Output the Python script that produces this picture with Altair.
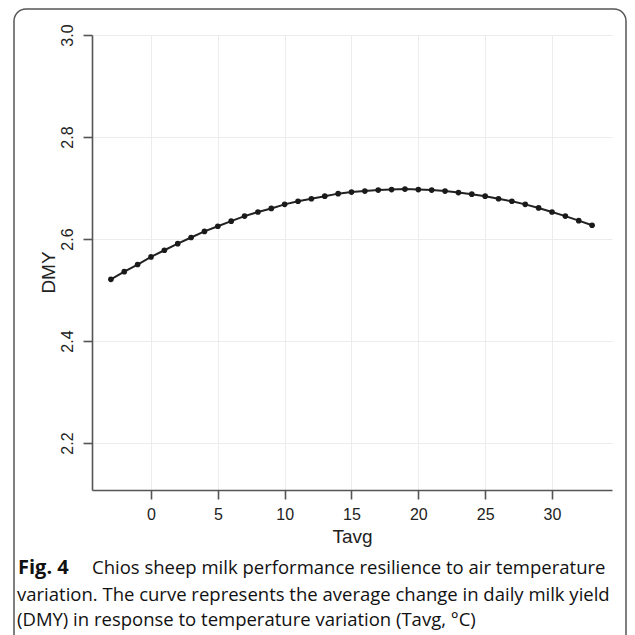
import altair as alt
import pandas as pd

# Data
tavg = list(range(-3, 34))
dmy = [2.521, 2.536, 2.550, 2.565, 2.578, 2.591, 2.603, 2.615, 2.625, 2.635,
       2.645, 2.653, 2.660, 2.668, 2.674, 2.679, 2.684, 2.689, 2.692, 2.694,
       2.696, 2.697, 2.698, 2.697, 2.696, 2.694, 2.691, 2.688, 2.684, 2.679,
       2.674, 2.668, 2.661, 2.653, 2.645, 2.636, 2.627]
x_ticks = [0, 5, 10, 15, 20, 25, 30]
y_ticks = [2.2, 2.4, 2.6, 2.8, 3.0]
x_title = "Tavg"
y_title = "DMY"
fig_label = "Fig. 4"
caption_lines = [
    "Chios sheep milk performance resilience to air temperature",
    "variation. The curve represents the average change in daily milk yield",
    "(DMY) in response to temperature variation (Tavg, °C)",
]

df = pd.DataFrame({"Tavg": tavg, "DMY": dmy})

W, H = 520, 455
PL, PT = 84, 27
AXIS_COLOR = "#555555"
LABEL_FONT = "Liberation Sans"
CAP_FONT = "Open Sans"
CAP_SIZE = 18.5

xenc = alt.X("Tavg:Q", scale=alt.Scale(domain=[-4.414, 34.49], nice=False, zero=False),
             axis=alt.Axis(values=x_ticks, title=x_title, format="d",
                           tickSize=9, labelPadding=20, labelBaseline="alphabetic",
                           labelFontSize=16, labelFont=LABEL_FONT, labelColor="#222222",
                           titleFont=LABEL_FONT, titleFontSize=19, titleFontWeight="normal",
                           titleColor="#222222", titleBaseline="alphabetic", titleY=52,
                           domainColor=AXIS_COLOR, tickColor=AXIS_COLOR, domainWidth=1.6,
                           tickWidth=1.6, gridColor="#ececec", gridWidth=1))
yenc = alt.Y("DMY:Q", scale=alt.Scale(domain=[2.108, 3.0], nice=False, zero=False),
             axis=alt.Axis(values=y_ticks, title=y_title, format=".1f",
                           tickSize=9, labelPadding=11, labelAngle=270,
                           labelAlign="center", labelBaseline="alphabetic",
                           labelFontSize=16, labelFont=LABEL_FONT, labelColor="#222222",
                           titleFont=LABEL_FONT, titleFontSize=19, titleFontWeight="normal",
                           titleColor="#222222", titleAngle=270, titleBaseline="alphabetic",
                           titleAlign="center", titleX=-38, titleY=237,
                           domainColor=AXIS_COLOR, tickColor=AXIS_COLOR, domainWidth=1.6,
                           tickWidth=1.6, gridColor="#ececec", gridWidth=1))

base = alt.Chart(df)
line = base.mark_line(color="#222222", strokeWidth=2).encode(x=xenc, y=yenc)
pts = base.mark_point(filled=True, color="#1a1a1a", size=32, opacity=1).encode(x="Tavg:Q", y="DMY:Q")

one = pd.DataFrame({"a": [0]})
frame = alt.Chart(one).mark_rect(fillOpacity=0, stroke="#555555", strokeWidth=1.5,
                                 cornerRadius=12).encode(
    x=alt.value(14 - 8 - PL), x2=alt.value(626 - 8 - PL),
    y=alt.value(9 - 8 - PT), y2=alt.value(760))

def text_layer(txt, xpix, ypix, bold=False, size=CAP_SIZE):
    return alt.Chart(pd.DataFrame({"t": [txt]})).mark_text(
        align="left", baseline="middle", font=CAP_FONT, fontSize=size,
        fontWeight="bold" if bold else "normal", color="#111111").encode(
        text="t:N", x=alt.value(xpix - 8 - PL), y=alt.value(ypix - 8 - PT))

cap = [text_layer(fig_label, 18, 568, bold=True, size=20),
       text_layer(caption_lines[0], 92, 568),
       text_layer(caption_lines[1], 17, 595),
       text_layer(caption_lines[2], 17, 620)]

chart = alt.layer(frame, line, pts, *cap).properties(
    width=W, height=H,
    autosize=alt.AutoSizeParams(type="none"),
    padding={"left": PL, "top": PT, "right": 15, "bottom": 145},
    background="white",
).configure_view(stroke=None)

chart.save("out.html", embed_options={"renderer": "svg", "actions": False})
